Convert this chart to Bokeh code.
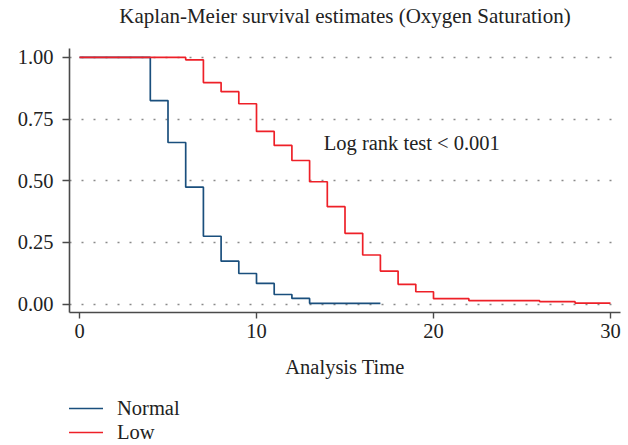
from bokeh.plotting import figure
from bokeh.layouts import column
from bokeh.models import Range1d, Label, Legend, LegendItem, FixedTicker, Title
from bokeh.embed import file_html
from bokeh.resources import INLINE

# ---- data ----
title_text = "Kaplan-Meier survival estimates (Oxygen Saturation)"
x_axis_label = "Analysis Time"
note_text = "Log rank test < 0.001"
group_names = ["Normal", "Low"]

normal_time = [0, 4, 5, 6, 7, 8, 9, 10, 11, 12, 13, 17]
normal_surv = [1.0, 0.825, 0.655, 0.474, 0.275, 0.174, 0.124, 0.084, 0.039, 0.023, 0.003, 0.003]

low_time = [0, 6, 7, 8, 9, 10, 11, 12, 13, 14, 15, 16, 17, 18, 19, 20, 22, 26, 28, 30]
low_surv = [1.0, 0.99, 0.898, 0.861, 0.812, 0.70, 0.643, 0.582, 0.496, 0.395, 0.287,
            0.199, 0.134, 0.080, 0.050, 0.022, 0.014, 0.010, 0.004, 0.004]

x_ticks = [0, 10, 20, 30]
y_ticks = [0.0, 0.25, 0.5, 0.75, 1.0]
y_tick_labels = ["0.00", "0.25", "0.50", "0.75", "1.00"]
note_x, note_y = 13.8, 0.651

FONT = "Liberation Serif"
BLUE = "#1a4f7d"
RED = "#ee2028"
AXIS = "#4a4a4a"
TXT = "#222222"

p = figure(width=628, height=392, output_backend="svg", toolbar_location=None,
           x_range=Range1d(-0.565, 30.565), y_range=Range1d(-0.034, 1.036),
           min_border_left=69, min_border_right=8, min_border_top=0,
           min_border_bottom=80, title=None)

# spacer between title and plot frame (closest to the frame), then the title
p.add_layout(Title(text=" ", text_font_size="1px", standoff=17), "above")
p.add_layout(Title(text=title_text, text_font=FONT, text_font_size="21px",
                   text_font_style="normal", text_color=TXT, align="center",
                   standoff=2), "above")

p.outline_line_color = None
p.background_fill_color = "white"
p.xgrid.visible = False
p.ygrid.ticker = FixedTicker(ticks=y_ticks)
p.ygrid.grid_line_color = "#8a8a8a"
p.ygrid.grid_line_width = 1.6
p.ygrid.grid_line_dash = "2 10"

p.xaxis.ticker = FixedTicker(ticks=x_ticks)
p.yaxis.ticker = FixedTicker(ticks=y_ticks)
p.yaxis.major_label_overrides = {t: s for t, s in zip(y_ticks, y_tick_labels)}
p.xaxis.axis_label = x_axis_label

for ax in (p.xaxis[0], p.yaxis[0]):
    ax.axis_line_color = AXIS
    ax.axis_line_width = 1.6
    ax.major_tick_line_color = AXIS
    ax.major_tick_line_width = 1.4
    ax.minor_tick_line_color = None
    ax.major_tick_in = 0
    ax.major_label_text_font = FONT
    ax.major_label_text_font_size = "20.5px"
    ax.major_label_text_color = TXT
    ax.axis_label_text_font = FONT
    ax.axis_label_text_font_size = "20.5px"
    ax.axis_label_text_font_style = "normal"
    ax.axis_label_text_color = TXT

p.xaxis.major_tick_out = 6
p.xaxis.major_label_standoff = 5
p.xaxis.axis_label_standoff = 15
p.yaxis.major_tick_out = 7
p.yaxis.major_label_standoff = 9

p.step(normal_time, normal_surv, mode="after", line_color=BLUE, line_width=1.7)
p.step(low_time, low_surv, mode="after", line_color=RED, line_width=1.7)

p.add_layout(Label(x=note_x, y=note_y, text=note_text, text_font=FONT,
                   text_font_size="20.5px", text_color=TXT,
                   text_baseline="middle", text_align="left"))

# ---- legend strip below the chart ----
lg = figure(width=628, height=53, output_backend="svg", toolbar_location=None,
            x_axis_type=None, y_axis_type=None, min_border=0,
            x_range=p.x_range, y_range=p.y_range)
lg.outline_line_color = None
lg.grid.visible = False
rl_normal = lg.step(normal_time, normal_surv, mode="after", line_color=BLUE,
                    line_width=1.7, visible=False)
rl_low = lg.step(low_time, low_surv, mode="after", line_color=RED,
                 line_width=1.7, visible=False)

legend = Legend(items=[LegendItem(label=group_names[0], renderers=[rl_normal]),
                       LegendItem(label=group_names[1], renderers=[rl_low])],
                location=(-1, 1), orientation="vertical",
                label_text_font=FONT, label_text_font_size="20.5px",
                label_text_color=TXT,
                glyph_width=35, glyph_height=24, label_height=24,
                label_standoff=14, spacing=0, padding=0, margin=0,
                inactive_fill_alpha=0,
                background_fill_alpha=0, border_line_color=None)
lg.add_layout(legend, "center")

open("out.html", "w").write(file_html(column(p, lg, spacing=0), INLINE))
